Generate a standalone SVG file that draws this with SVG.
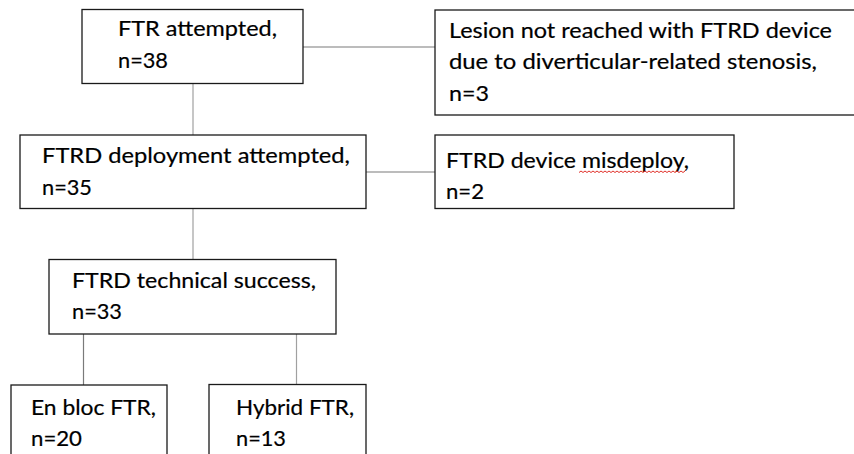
<svg xmlns="http://www.w3.org/2000/svg" width="854" height="454" viewBox="0 0 854 454">
  <style>
    .box { fill: #ffffff; stroke: #1a1a1a; stroke-width: 1.3; }
    .lbl { font-family: Lato, "Liberation Sans", sans-serif; font-size: 21px; fill: #000000; stroke: #000000; stroke-width: 0.2; }
    .link { stroke: #7a7a7a; stroke-width: 1.2; fill: none; }
    .vlink { stroke: #a0a0a0; stroke-width: 1.2; fill: none; }
    .spell { stroke: #e0302a; stroke-width: 1; fill: none; }
  </style>
  <rect width="854" height="454" fill="#ffffff"/>

  <!-- connectors -->
  <g id="connectors">
    <line class="link" x1="303" y1="47" x2="435" y2="47"/>
    <line class="vlink" x1="193" y1="83" x2="193" y2="135"/>
    <line class="link" x1="366" y1="172" x2="435" y2="172"/>
    <line class="vlink" x1="193" y1="208" x2="193" y2="259.5"/>
    <line class="link" x1="83.5" y1="334" x2="83.5" y2="385"/>
    <line class="vlink" x1="296.5" y1="334" x2="296.5" y2="384.5"/>
  </g>

  <g id="ftr-attempted">
    <rect class="box" x="82" y="9.5" width="221" height="74"/>
    <text class="lbl" x="118" y="36" textLength="159" lengthAdjust="spacingAndGlyphs">FTR attempted,</text>
    <text class="lbl" x="118" y="67.5" textLength="50" lengthAdjust="spacingAndGlyphs">n=38</text>
  </g>

  <g id="lesion-not-reached">
    <rect class="box" x="435" y="10" width="440" height="105"/>
    <text class="lbl" x="449" y="37.5" textLength="383" lengthAdjust="spacingAndGlyphs">Lesion not reached with FTRD device</text>
    <text class="lbl" x="449" y="69" textLength="368" lengthAdjust="spacingAndGlyphs">due to diverticular-related stenosis,</text>
    <text class="lbl" x="449" y="100.5" textLength="40" lengthAdjust="spacingAndGlyphs">n=3</text>
  </g>

  <g id="deployment-attempted">
    <rect class="box" x="20" y="135" width="346" height="73.5"/>
    <text class="lbl" x="42" y="163" textLength="308" lengthAdjust="spacingAndGlyphs">FTRD deployment attempted,</text>
    <text class="lbl" x="42" y="194.5" textLength="50" lengthAdjust="spacingAndGlyphs">n=35</text>
  </g>

  <g id="device-misdeploy">
    <rect class="box" x="435" y="135" width="299" height="73.5"/>
    <text class="lbl" x="446" y="167.5" textLength="243" lengthAdjust="spacingAndGlyphs">FTRD device misdeploy,</text>
    <path class="spell" d="M579 172.5 l2 -1.5 l2 1.5 l2 -1.5 l2 1.5 l2 -1.5 l2 1.5 l2 -1.5 l2 1.5 l2 -1.5 l2 1.5 l2 -1.5 l2 1.5 l2 -1.5 l2 1.5 l2 -1.5 l2 1.5 l2 -1.5 l2 1.5 l2 -1.5 l2 1.5 l2 -1.5 l2 1.5 l2 -1.5 l2 1.5 l2 -1.5 l2 1.5 l2 -1.5 l2 1.5 l2 -1.5 l2 1.5 l2 -1.5 l2 1.5 l2 -1.5 l2 1.5 l2 -1.5 l2 1.5 l2 -1.5 l2 1.5 l2 -1.5 l2 1.5 l2 -1.5 l2 1.5 l2 -1.5 l2 1.5 l2 -1.5 l2 1.5 l2 -1.5 l2 1.5 l2 -1.5 l2 1.5 l2 -1.5 l2 1.5 l2 -1.5"/>
    <text class="lbl" x="446" y="199" textLength="38" lengthAdjust="spacingAndGlyphs">n=2</text>
  </g>

  <g id="technical-success">
    <rect class="box" x="49" y="259.5" width="287" height="74.5"/>
    <text class="lbl" x="72" y="287.5" textLength="244" lengthAdjust="spacingAndGlyphs">FTRD technical success,</text>
    <text class="lbl" x="72" y="319" textLength="50" lengthAdjust="spacingAndGlyphs">n=33</text>
  </g>

  <g id="en-bloc">
    <rect class="box" x="11" y="385" width="156" height="90"/>
    <text class="lbl" x="31" y="415" textLength="125" lengthAdjust="spacingAndGlyphs">En bloc FTR,</text>
    <text class="lbl" x="31" y="445.5" textLength="51" lengthAdjust="spacingAndGlyphs">n=20</text>
  </g>

  <g id="hybrid">
    <rect class="box" x="209" y="384.5" width="157" height="90"/>
    <text class="lbl" x="236" y="415" textLength="118" lengthAdjust="spacingAndGlyphs">Hybrid FTR,</text>
    <text class="lbl" x="236" y="445.5" textLength="50" lengthAdjust="spacingAndGlyphs">n=13</text>
  </g>
</svg>
